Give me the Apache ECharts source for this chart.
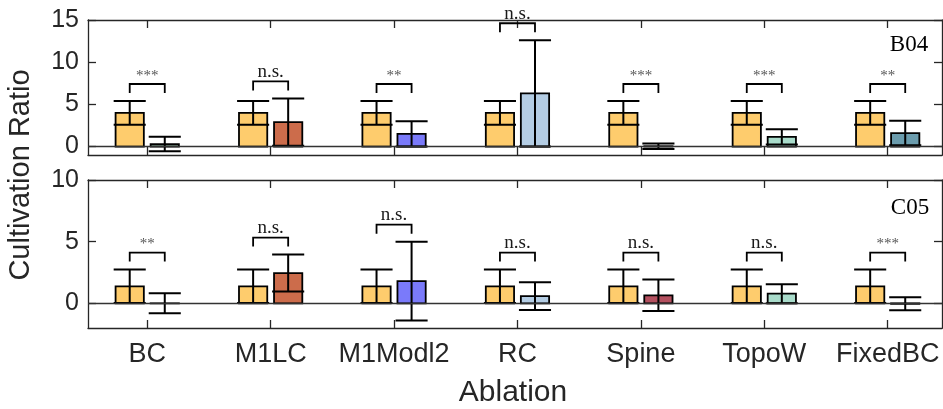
<!DOCTYPE html>
<html>
<head>
<meta charset="utf-8">
<script src="https://cdn.jsdelivr.net/npm/echarts@6/dist/echarts.min.js"></script>
<style>
  html, body { margin: 0; padding: 0; background: #fff; }
  #chart { width: 943px; height: 409px; }
</style>
</head>
<body>
<div id="chart"></div>
<script>
// Ablation categories along the shared x axis
const categories = ['BC', 'M1LC', 'M1Modl2', 'RC', 'Spine', 'TopoW', 'FixedBC'];

// Panel B04: reference (yellow) bar and ablation bar, mean and error half-width
const b04BaseMean = [4.0, 4.0, 4.0, 4.0, 4.0, 4.0, 4.0];
const b04BaseErr  = [1.4, 1.4, 1.4, 1.4, 1.4, 1.4, 1.4];
const b04Mean     = [0.3, 2.9, 1.5, 6.3, 0.04, 1.15, 1.6];
const b04Err      = [0.85, 2.8, 1.5, 6.3, 0.32, 0.9, 1.45];
const b04Sig      = ['***', 'n.s.', '**', 'n.s.', '***', '***', '**'];

// Panel C05
const c05BaseMean = [1.38, 1.38, 1.38, 1.38, 1.38, 1.38, 1.38];
const c05BaseErr  = [1.36, 1.36, 1.36, 1.36, 1.36, 1.36, 1.36];
const c05Mean     = [0.0, 2.45, 1.8, 0.58, 0.65, 0.78, -0.04];
const c05Err      = [0.81, 1.5, 3.2, 1.13, 1.28, 0.77, 0.53];
const c05Sig      = ['**', 'n.s.', 'n.s.', 'n.s.', 'n.s.', 'n.s.', '***'];

// Y tick labels per panel
const b04Ticks = [0, 5, 10, 15];
const c05Ticks = [0, 5, 10];
const xTicks = [1, 2, 3, 4, 5, 6, 7];

const baseColor = '#fecc6d';
const ablationColors = ['#7f9f8c', '#cc6c4b', '#7a7afa', '#b4cde4', '#b4505f', '#a9dccb', '#6b9cad'];

const axisColor = '#262626';
const sansFont = '"Liberation Sans", Arial, sans-serif';
const serifFont = '"Liberation Serif", "Times New Roman", serif';

function makeRenderer(sigLabels) {
  return function (params, api) {
    const i = params.dataIndex;
    const x = api.value(0);
    const unit = api.size([1, 0])[0];
    const off = 0.142 * unit;
    const bw = 0.229 * unit;
    const cap = 0.26 * unit;
    const cx = api.coord([x, 0])[0];
    const y0 = api.coord([x, 0])[1];
    const xb = cx - off, xa = cx + off;
    const children = [];
    const lw = 1.8;

    function bar(xc, mean, color) {
      const yt = api.coord([x, mean])[1];
      children.push({
        type: 'rect',
        shape: { x: xc - bw / 2, y: Math.min(yt, y0), width: bw, height: Math.max(Math.abs(yt - y0), 0.01) },
        style: { fill: color, stroke: '#000', lineWidth: lw }
      });
    }
    function errBar(xc, mean, err) {
      const yHi = api.coord([x, mean + err])[1];
      const yLo = api.coord([x, mean - err])[1];
      const st = { stroke: '#000', lineWidth: 2 };
      children.push({ type: 'line', shape: { x1: xc, y1: yHi, x2: xc, y2: yLo }, style: st });
      children.push({ type: 'line', shape: { x1: xc - cap / 2, y1: yHi, x2: xc + cap / 2, y2: yHi }, style: st });
      children.push({ type: 'line', shape: { x1: xc - cap / 2, y1: yLo, x2: xc + cap / 2, y2: yLo }, style: st });
      return yHi;
    }

    const bm = api.value(1), be = api.value(2), am = api.value(3), ae = api.value(4);
    bar(xb, bm, baseColor);
    bar(xa, am, ablationColors[i]);
    const h1 = errBar(xb, bm, be);
    const h2 = errBar(xa, am, ae);

    // significance bracket above the taller error bar
    const legBottom = Math.min(h1, h2) - 8;
    const by = legBottom - 9;
    children.push({
      type: 'polyline',
      shape: { points: [[xb, legBottom], [xb, by], [xa, by], [xa, legBottom]] },
      style: { stroke: '#000', lineWidth: lw, fill: null }
    });
    const sig = sigLabels[i];
    const isStar = sig.indexOf('*') >= 0;
    children.push({
      type: 'text',
      style: {
        text: sig,
        x: cx,
        y: isStar ? by - 8 : by - 9.5,
        align: 'center',
        verticalAlign: 'middle',
        font: (isStar ? '15px ' : '19px ') + serifFont,
        fill: isStar ? '#555' : '#1a1a1a'
      }
    });
    return { type: 'group', children: children };
  };
}

function panelData(baseMean, baseErr, mean, err) {
  return categories.map((c, i) => [i + 1, baseMean[i], baseErr[i], mean[i], err[i]]);
}

function xAxisDef(gridIndex, position, showLabels) {
  return {
    type: 'value', gridIndex: gridIndex, position: position,
    min: 0.52, max: 7.44,
    axisLine: { show: true, onZero: false, lineStyle: { color: axisColor, width: 1.3 } },
    axisTick: { show: true, inside: true, length: 8, customValues: xTicks, lineStyle: { color: axisColor, width: 1.3 } },
    axisLabel: {
      show: showLabels, customValues: xTicks, margin: 13,
      formatter: v => categories[Math.round(v) - 1] || '',
      fontSize: 27, fontFamily: sansFont, color: axisColor
    },
    splitLine: { show: false }
  };
}

function yAxisDef(gridIndex, position, min, max, ticks, showLabels) {
  return {
    type: 'value', gridIndex: gridIndex, position: position,
    min: min, max: max,
    axisLine: { show: true, onZero: false, lineStyle: { color: axisColor, width: 1.3 } },
    axisTick: { show: true, inside: true, length: 8, customValues: ticks, lineStyle: { color: axisColor, width: 1.3 } },
    axisLabel: {
      show: showLabels, customValues: ticks, margin: 9,
      fontSize: 25, fontFamily: sansFont, color: axisColor
    },
    splitLine: { show: false }
  };
}

const zeroLine = {
  silent: true, symbol: 'none',
  label: { show: false },
  lineStyle: { color: '#333', width: 1.3, type: 'solid' },
  data: [{ yAxis: 0 }]
};

const chart = echarts.init(document.getElementById('chart'));
chart.setOption({
  animation: false,
  backgroundColor: '#fff',
  grid: [
    { left: 88, right: 1, top: 20, height: 135 },
    { left: 88, right: 1, top: 180, height: 148 }
  ],
  xAxis: [
    xAxisDef(0, 'bottom', false),
    xAxisDef(0, 'top', false),
    xAxisDef(1, 'bottom', true),
    xAxisDef(1, 'top', false)
  ],
  yAxis: [
    yAxisDef(0, 'left', -1, 15, b04Ticks, true),
    yAxisDef(0, 'right', -1, 15, b04Ticks, false),
    yAxisDef(1, 'left', -2, 10, c05Ticks, true),
    yAxisDef(1, 'right', -2, 10, c05Ticks, false)
  ],
  series: [
    {
      type: 'custom', xAxisIndex: 0, yAxisIndex: 0,
      renderItem: makeRenderer(b04Sig),
      encode: { x: 0, y: [1, 3] },
      data: panelData(b04BaseMean, b04BaseErr, b04Mean, b04Err),
      markLine: zeroLine
    },
    {
      type: 'custom', xAxisIndex: 2, yAxisIndex: 2,
      renderItem: makeRenderer(c05Sig),
      encode: { x: 0, y: [1, 3] },
      data: panelData(c05BaseMean, c05BaseErr, c05Mean, c05Err),
      markLine: zeroLine
    }
  ],
  graphic: [
    {
      type: 'text', x: 21, y: 175, rotation: Math.PI / 2,
      style: { text: 'Cultivation Ratio', align: 'center', verticalAlign: 'middle', font: '29px ' + sansFont, fill: axisColor }
    },
    {
      type: 'text', x: 513, y: 393,
      style: { text: 'Ablation', align: 'center', verticalAlign: 'middle', font: '30px ' + sansFont, fill: axisColor }
    },
    {
      type: 'text', x: 909, y: 45,
      style: { text: 'B04', align: 'center', verticalAlign: 'middle', font: '23px ' + serifFont, fill: '#000' }
    },
    {
      type: 'text', x: 910, y: 208,
      style: { text: 'C05', align: 'center', verticalAlign: 'middle', font: '23px ' + serifFont, fill: '#000' }
    }
  ]
});
</script>
</body>
</html>
